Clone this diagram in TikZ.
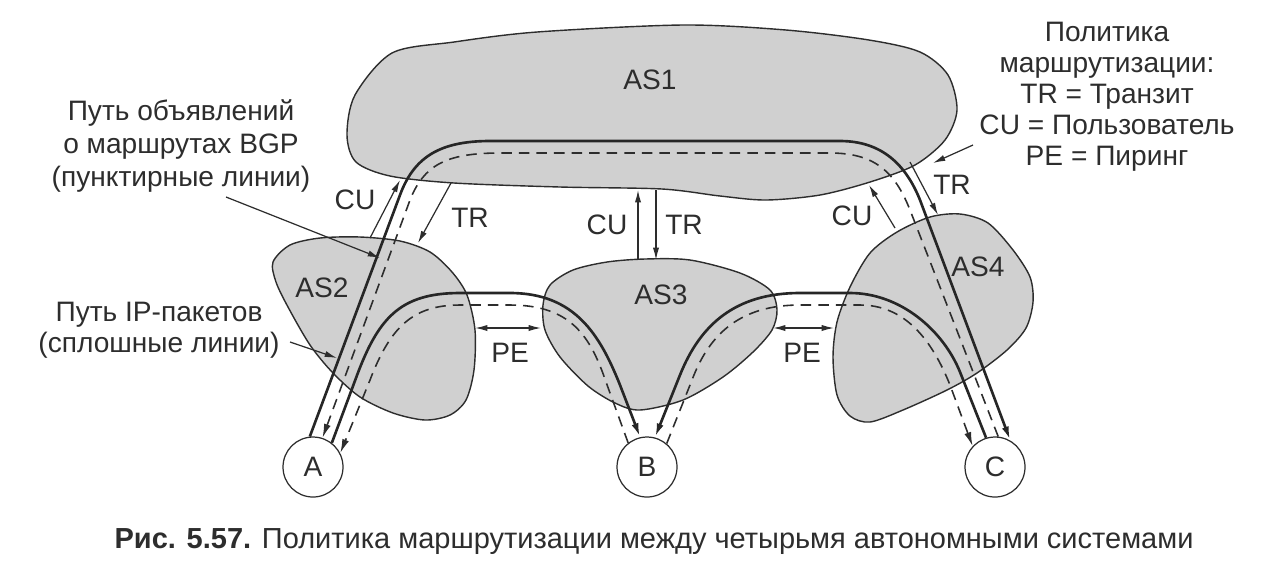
\documentclass[tikz,border=0pt]{standalone}
\usepackage{fontspec}
\setmainfont{Liberation Sans}
\usetikzlibrary{arrows.meta}
\definecolor{asgray}{RGB}{208,208,208}
\definecolor{inkgray}{RGB}{45,45,45}

\begin{document}
\begin{tikzpicture}[x=0.02cm, y=-0.02cm, font=\fontsize{16}{19}\selectfont, text=inkgray]
    \tikzstyle{asys} = [draw=inkgray, fill=asgray, line width=0.8pt]
    \tikzstyle{host} = [circle, draw=inkgray, fill=white, line width=0.7pt, minimum size=1.2cm, inner sep=0pt]
    \tikzstyle{ip} = [line width=1.5pt, draw=black!85, -{Latex[length=8pt,width=4pt]}]
    \tikzstyle{bgp} = [line width=0.9pt, draw=inkgray, dash pattern=on 6pt off 4pt, -{Latex[length=8pt,width=4pt]}]
    \tikzstyle{rel} = [line width=0.7pt, draw=inkgray, -{Latex[length=7pt,width=3.5pt]}]
    \tikzstyle{peer} = [line width=0.7pt, draw=inkgray, {Latex[length=7pt,width=3.5pt]}-{Latex[length=7pt,width=3.5pt]}]

    \useasboundingbox (0,0) rectangle (1280,583);

    % autonomous systems
    \draw[asys] plot[smooth cycle] coordinates {(392,53) (454,42) (537,32) (683,25) (786,30) (869,40) (920,52) (948,75) (957,110) (945,140) (915,165) (870,182) (820,195) (766,200) (720,196) (662,189) (560,187) (454,183) (390,176) (356,162) (347,135) (355,95)};
    \draw[asys] plot[smooth cycle] coordinates {(273,262) (290,245) (320,238) (360,237) (400,241) (430,252) (452,272) (467,295) (475,330) (474,370) (466,400) (450,415) (425,420) (393,413) (360,397) (333,373) (310,345) (288,307) (276,282)};
    \draw[asys] plot[smooth cycle] coordinates {(573,270) (607,262) (645,259) (690,260) (740,273) (770,290) (777,310) (772,330) (753,352) (723,377) (683,400) (640,410) (615,403) (588,386) (560,357) (545,330) (543,305) (550,285)};
    \draw[asys] plot[smooth cycle] coordinates {(897,232) (930,217) (960,214) (988,223) (1013,250) (1030,277) (1033,302) (1026,328) (1007,350) (977,373) (947,390) (903,410) (870,422) (850,416) (837,395) (833,357) (837,322) (850,287) (870,253)};

    \node (as1) at (650,80) {AS1};
    \node (as2) at (322,288) {AS2};
    \node (as3) at (661,295) {AS3};
    \node (as4) at (978,267) {AS4};

    \node[host] (A) at (313,467) {A};
    \node[host] (B) at (647,467) {B};
    \node[host] (C) at (995,467) {C};

    % IP packets and BGP announcements
    \draw[ip] (A.96) -- (400,195) .. controls (414,157) and (440,141) .. (490,141) -- (840,141) .. controls (882,141) and (906,165) .. (920,200) -- (C.60);
    \draw[bgp] (C.84) -- (910,210) .. controls (895,172) and (875,153) .. (830,153) -- (500,153) .. controls (446,153) and (424,165) .. (410,200) -- (A.72);
    \draw[ip] (A.52) -- (356,378) .. controls (378,318) and (400,293) .. (460,293) -- (510,293) .. controls (575,293) and (600,335) .. (620,385) -- (B.103);
    \draw[bgp] (B.128) -- (606,382) .. controls (590,335) and (570,305) .. (510,305) -- (460,305) .. controls (412,305) and (390,328) .. (370,380) -- (A.27);
    \draw[ip] (C.107) -- (960,372) .. controls (943,330) and (900,293) .. (850,293) -- (800,293) .. controls (735,293) and (700,325) .. (680,375) -- (B.75);
    \draw[bgp] (B.50) -- (692,380) .. controls (710,332) and (742,305) .. (800,305) -- (860,305) .. controls (905,305) and (932,340) .. (950,385) -- (C.137);

    % policy between systems
    \coordinate (cuLs) at (370,238);
    \coordinate (cuLe) at (400,180);
    \coordinate (trLs) at (451,183);
    \coordinate (trLe) at (418,243);
    \coordinate (cuMs) at (638,260);
    \coordinate (cuMe) at (638,190);
    \coordinate (trMs) at (656,190);
    \coordinate (trMe) at (656,260);
    \coordinate (cuRs) at (895,228);
    \coordinate (cuRe) at (869,185);
    \coordinate (trRs) at (910,162);
    \coordinate (trRe) at (938,215);
    \coordinate (peLs) at (475,328);
    \coordinate (peLe) at (541,328);
    \coordinate (peRs) at (773,328);
    \coordinate (peRe) at (834,328);

    \draw[rel] (cuLs) -- (cuLe);
    \draw[rel] (trLs) -- (trLe);
    \draw[rel] (cuMs) -- (cuMe);
    \draw[rel] (trMs) -- (trMe);
    \draw[rel] (cuRs) -- (cuRe);
    \draw[rel] (trRs) -- (trRe);
    \draw[peer] (peLs) -- (peLe);
    \draw[peer] (peRs) -- (peRe);

    \node (cuL) at (355,200) {CU};
    \node (trL) at (470,218) {TR};
    \node (cuM) at (607,225) {CU};
    \node (trM) at (684,225) {TR};
    \node (cuR) at (852,216) {CU};
    \node (trR) at (952,185) {TR};
    \node (peL) at (510,353) {PE};
    \node (peR) at (802,353) {PE};

    % legends
    \node[align=center, font=\fontsize{16}{18.7}\selectfont] (bgplbl) at (181,146) {Путь объявлений\\о маршрутах BGP\\(пунктирные линии)};
    \node[align=center, font=\fontsize{16}{17.8}\selectfont] (iplbl) at (159,330) {Путь IP-пакетов\\(сплошные линии)};
    \node[align=center, font=\fontsize{16}{17.6}\selectfont] (policy) at (1107,97) {Политика\\маршрутизации:\\TR = Транзит\\CU = Пользователь\\PE = Пиринг};

    \coordinate (bgpfrom) at (226,197);
    \coordinate (bgpto) at (380,258);
    \coordinate (ipfrom) at (290,342);
    \coordinate (ipto) at (337,358);
    \coordinate (polfrom) at (973,145);
    \coordinate (polto) at (933,163);
    \draw[rel] (bgpfrom) -- (bgpto);
    \draw[rel] (ipfrom) -- (ipto);
    \draw[rel] (polfrom) -- (polto);

    \node[anchor=base, font=\fontsize{16.5}{20}\selectfont] (caption) at (654,548) {\textbf{Рис. 5.57.} Политика маршрутизации между четырьмя автономными системами};
\end{tikzpicture}
\end{document}
